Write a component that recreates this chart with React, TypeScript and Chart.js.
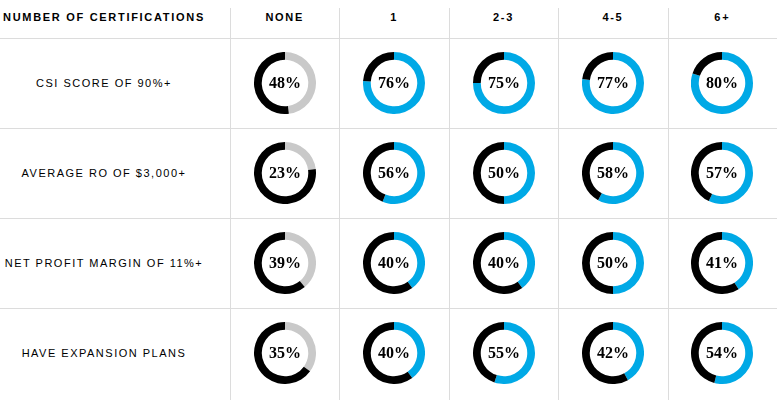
import React, { useEffect, useRef } from "react";
import { Chart, registerables } from "chart.js";

Chart.register(...registerables);

const headerTitle = "NUMBER OF CERTIFICATIONS";
const columnLabels = ["NONE", "1", "2-3", "4-5", "6+"];
const rowLabels = [
  "CSI SCORE OF 90%+",
  "AVERAGE RO OF $3,000+",
  "NET PROFIT MARGIN OF 11%+",
  "HAVE EXPANSION PLANS",
];
const csiScore = [48, 76, 75, 77, 80];
const averageRo = [23, 56, 50, 58, 57];
const netProfitMargin = [39, 40, 40, 50, 41];
const expansionPlans = [35, 40, 55, 42, 54];
const rowValues = [csiScore, averageRo, netProfitMargin, expansionPlans];

const GREY = "#c9c9c9";
const BLUE = "#00a9e6";
const BLACK = "#000000";
const LINE = "#dcdcdc";

const W = 777;
const H = 400;
const HEADER_H = 38;
const ROW_H = 90;
const FIRST_COL_X = 230;
const COL_W = 109.4;
const RADIUS = 31;

function Donut({ value, color, cx, cy }: { value: number; color: string; cx: number; cy: number }) {
  const ref = useRef<HTMLCanvasElement | null>(null);
  useEffect(() => {
    if (!ref.current) return;
    const chart = new Chart(ref.current, {
      type: "doughnut",
      data: {
        labels: ["yes", "no"],
        datasets: [
          {
            data: [value, 100 - value],
            backgroundColor: [color, BLACK],
            borderWidth: 0,
          },
        ],
      },
      options: {
        responsive: false,
        animation: false,
        cutout: "75%",
        rotation: 0,
        layout: { padding: 0 },
        plugins: { legend: { display: false }, tooltip: { enabled: false } },
        events: [],
      },
    });
    return () => chart.destroy();
  }, [value, color]);
  const size = RADIUS * 2;
  return (
    <>
      <canvas
        ref={ref}
        width={size}
        height={size}
        style={{ position: "absolute", left: cx - RADIUS, top: cy - RADIUS, width: size, height: size }}
      />
      <div
        style={{
          position: "absolute",
          left: cx - 30,
          width: 60,
          top: cy - 10,
          height: 20,
          lineHeight: "20px",
          textAlign: "center",
          fontFamily: "'Liberation Serif', 'DejaVu Serif', serif",
          fontWeight: "bold",
          fontSize: 16,
          color: "#000",
        }}
      >
        {value}%
      </div>
    </>
  );
}

export default function App() {
  const lines: React.ReactNode[] = [];
  for (let r = 0; r < rowLabels.length; r++) {
    const y = HEADER_H + r * ROW_H;
    lines.push(
      <div key={"h" + r} style={{ position: "absolute", left: 0, top: y, width: W, height: 1, background: LINE }} />
    );
  }
  for (let c = 0; c < columnLabels.length; c++) {
    const x = Math.round(FIRST_COL_X + c * COL_W);
    lines.push(
      <div key={"v" + c} style={{ position: "absolute", left: x, top: 8, width: 1, height: H - 8, background: LINE }} />
    );
  }

  const sans = "'Liberation Sans', Arial, sans-serif";

  return (
    <div
      style={{
        position: "absolute",
        left: 0,
        top: 0,
        width: W,
        height: H,
        background: "#fff",
        overflow: "hidden",
      }}
    >
      {lines}
      <div
        style={{
          position: "absolute",
          left: 3,
          top: 8,
          height: 18,
          lineHeight: "18px",
          fontFamily: sans,
          fontWeight: "bold",
          fontSize: 11,
          letterSpacing: "1.7px",
          color: "#000",
          whiteSpace: "nowrap",
        }}
      >
        {headerTitle}
      </div>
      {columnLabels.map((lab, c) => {
        const cx = FIRST_COL_X + c * COL_W + COL_W / 2;
        return (
          <div
            key={"c" + c}
            style={{
              position: "absolute",
              left: cx - 50,
              width: 100,
              top: 8,
              height: 18,
              lineHeight: "18px",
              textAlign: "center",
              fontFamily: sans,
              fontWeight: "bold",
              fontSize: 11,
              letterSpacing: "1.7px",
              color: "#000",
            }}
          >
            {lab}
          </div>
        );
      })}
      {rowLabels.map((lab, r) => {
        const cy = HEADER_H + r * ROW_H + ROW_H / 2;
        return (
          <div
            key={"r" + r}
            style={{
              position: "absolute",
              left: 0,
              width: 208,
              top: cy - 9,
              height: 18,
              lineHeight: "18px",
              textAlign: "center",
              fontFamily: sans,
              fontSize: 11,
              letterSpacing: "1.5px",
              color: "#000",
              whiteSpace: "nowrap",
            }}
          >
            {lab}
          </div>
        );
      })}
      {rowValues.map((vals, r) =>
        vals.map((v, c) => {
          const cx = Math.round(FIRST_COL_X + c * COL_W + COL_W / 2);
          const cy = HEADER_H + r * ROW_H + ROW_H / 2;
          return <Donut key={r + "-" + c} value={v} color={c === 0 ? GREY : BLUE} cx={cx} cy={cy} />;
        })
      )}
    </div>
  );
}
